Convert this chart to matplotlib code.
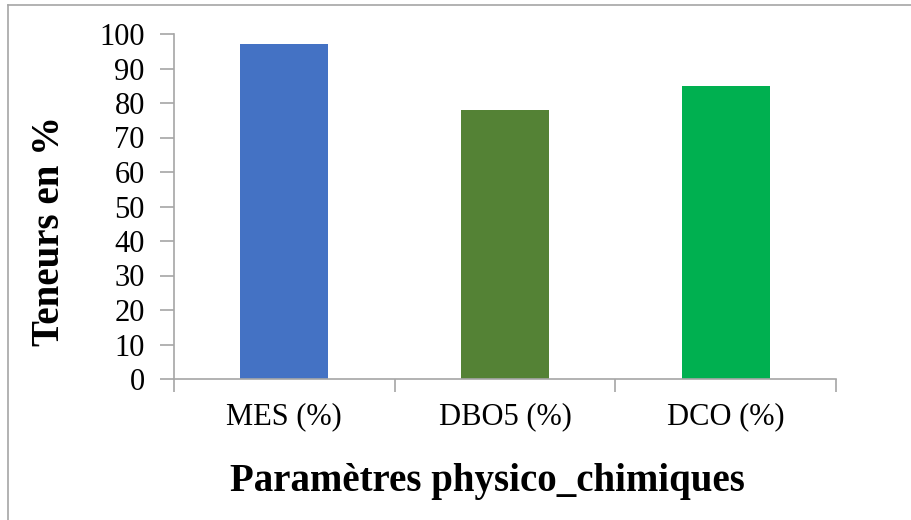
import matplotlib
matplotlib.use("Agg")
import matplotlib.pyplot as plt
from matplotlib.lines import Line2D

categories = ["MES (%)", "DBO5 (%)", "DCO (%)"]
values = [97, 78, 85]
colors = ["#4472C4", "#548235", "#00B050"]
yticks = list(range(0, 101, 10))

plt.rcParams['font.family'] = ['Liberation Serif', 'DejaVu Serif']

fig = plt.figure(figsize=(9.12, 5.2), dpi=100)
ax = fig.add_axes([174/912, 1-379/520, (836-174)/912, (379-34)/520])

x = list(range(len(categories)))
ax.bar(x, values, width=0.40, color=colors, zorder=2)
ax.set_xlim(-0.5, 2.5)
ax.set_ylim(0, 100)
ax.set_yticks(yticks)
ax.set_yticklabels([str(t) for t in yticks], fontsize=22)
ax.set_xticks([-0.5, 0.5, 1.5, 2.5])
ax.set_xticklabels([])
ax.set_xticks(x, minor=True)
ax.set_xticklabels(categories, minor=True, fontsize=22)
ax.tick_params(axis='x', which='minor', length=0, pad=17)
ax.tick_params(axis='x', which='major', length=9, width=1.2, color='#A6A6A6', direction='out')
ax.tick_params(axis='y', length=10, width=1.2, color='#A6A6A6', direction='out', pad=11)
for s in ['top', 'right']:
    ax.spines[s].set_visible(False)
for s in ['left', 'bottom']:
    ax.spines[s].set_color('#A6A6A6')
    ax.spines[s].set_linewidth(1.2)

fig.text(50/912, 1-231/520, "Teneurs en %", fontsize=28, fontweight='bold',
         rotation=90, ha='center', va='center')
fig.text(487/912, 1-482/520, "Paramètres physico_chimiques", fontsize=28,
         fontweight='bold', ha='center', va='center')

fig.add_artist(Line2D([8/912, 8/912], [0, 1-5/520], transform=fig.transFigure, color='#A6A6A6', lw=1.2))
fig.add_artist(Line2D([8/912, 1], [1-5/520, 1-5/520], transform=fig.transFigure, color='#A6A6A6', lw=1.2))

fig.savefig("out.png", dpi=100)
